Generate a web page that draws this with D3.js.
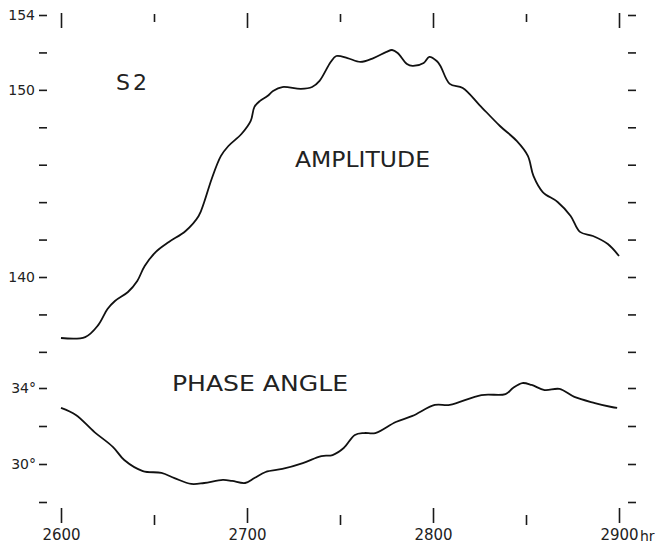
<!DOCTYPE html>
<html>
<head>
<meta charset="utf-8">
<script src="https://cdn.jsdelivr.net/npm/d3@7"></script>
<style>
  body { margin: 0; background: #fff; }
  svg text { font-family: "DejaVu Sans", sans-serif; fill: #222; }
  .tick line { stroke: #1a1a1a; stroke-width: 1.6; }
  .domain { display: none; }
</style>
</head>
<body>
<div id="chart"></div>
<script>
/////////////////////////////////////
///      DATA
/////////////////////////////////////
// hours
var ampHours  = [2600,2613,2620,2625,2629,2636,2641,2645,2651,2658,2667,2674,2677,2681,2686,2690,2697,2702,2704,2707,2711,2714,2719,2729,2735,2739,2745,2748,2754,2761,2768,2775,2778,2781,2786,2789,2795,2798,2802,2804,2809,2816,2825,2836,2845,2851,2854,2859,2867,2874,2879,2886,2894,2900];
var ampValues = [136.74,136.79,137.43,138.29,138.72,139.20,139.79,140.59,141.34,141.87,142.46,143.26,144.01,145.24,146.47,147.00,147.64,148.34,149.09,149.41,149.67,149.94,150.15,150.05,150.15,150.48,151.49,151.81,151.70,151.49,151.70,152.03,152.13,151.97,151.38,151.28,151.44,151.76,151.54,151.28,150.32,150.10,149.19,148.07,147.27,146.47,145.40,144.54,144.01,143.26,142.41,142.19,141.76,141.12];

var phaseHours  = [2600,2608,2618,2628,2634,2644,2654,2661,2670,2677,2687,2692,2699,2704,2710,2719,2730,2740,2746,2752,2758,2763,2769,2780,2789,2801,2809,2826,2839,2843,2848,2853,2860,2868,2876,2887,2896,2899];
var phaseValues = [32.95,32.58,31.68,30.89,30.21,29.63,29.53,29.26,28.95,29.00,29.16,29.11,29.00,29.26,29.58,29.74,30.05,30.42,30.47,30.84,31.53,31.63,31.63,32.21,32.53,33.11,33.11,33.63,33.68,34.00,34.26,34.16,33.89,33.95,33.53,33.21,33.00,32.95];

var hourMajor = [2600,2700,2800,2900];
var hourMinor = [2650,2750,2850];
var ampTicks  = [154,152,150,148,146,144,142,140,138,136];
var ampLabels = [154,150,140];
var phaseTicks  = [34,32,30,28];
var phaseLabels = [34,30];

/////////////////////////////////////
///      SCALES
/////////////////////////////////////
var width = 658, height = 547;
var svg = d3.select("#chart").append("svg")
  .attr("width", width)
  .attr("height", height);

var x = d3.scaleLinear().domain([2600,2900]).range([61,619]);
var yAmp = d3.scaleLinear().domain([140,154]).range([277,15]);
var yPhase = d3.scaleLinear().domain([30,34]).range([464,388]);

/////////////////////////////////////
///      AXES
/////////////////////////////////////
// left
svg.append("g").attr("transform","translate(47,0)")
  .call(d3.axisLeft(yAmp).tickValues(ampTicks).tickSize(8).tickPadding(4)
    .tickFormat(function(d){ return ampLabels.indexOf(d) >= 0 ? d : ""; }))
  .selectAll("text").style("font-size","14px");
svg.append("g").attr("transform","translate(47,0)")
  .call(d3.axisLeft(yPhase).tickValues(phaseTicks).tickSize(8).tickPadding(3)
    .tickFormat(function(d){ return phaseLabels.indexOf(d) >= 0 ? d + "°" : ""; }))
  .selectAll("text").style("font-size","14px");

// right, ticks only
svg.append("g").attr("transform","translate(628,0)")
  .call(d3.axisRight(yAmp).tickValues(ampTicks).tickSize(8).tickFormat(""));
svg.append("g").attr("transform","translate(628,0)")
  .call(d3.axisRight(yPhase).tickValues(phaseTicks).tickSize(8).tickFormat(""));

// top, ticks only
svg.append("g").attr("transform","translate(0,13)")
  .call(d3.axisBottom(x).tickValues(hourMajor).tickSize(15).tickFormat(""));
svg.append("g").attr("transform","translate(0,14)")
  .call(d3.axisBottom(x).tickValues(hourMinor).tickSize(8).tickFormat(""));

// bottom
svg.append("g").attr("transform","translate(0,508)")
  .call(d3.axisBottom(x).tickValues(hourMajor).tickSize(15).tickPadding(6)
    .tickFormat(d3.format("d")))
  .selectAll("text").style("font-size","15px");
svg.append("g").attr("transform","translate(0,515)")
  .call(d3.axisBottom(x).tickValues(hourMinor).tickSize(10).tickFormat(""));

svg.append("text")
  .attr("x", x(2900) + 21)
  .attr("y", 541)
  .style("font-size","14px")
  .text("hr");

/////////////////////////////////////
///      CURVES
/////////////////////////////////////
var ampLine = d3.line()
  .x(function(d,i){ return x(ampHours[i]); })
  .y(function(d){ return yAmp(d); })
  .curve(d3.curveCatmullRom.alpha(0.5));

var phaseLine = d3.line()
  .x(function(d,i){ return x(phaseHours[i]); })
  .y(function(d){ return yPhase(d); })
  .curve(d3.curveCatmullRom.alpha(0.5));

svg.append("path")
  .attr("d", ampLine(ampValues))
  .attr("fill","none")
  .attr("stroke","#111")
  .attr("stroke-width",1.8);

svg.append("path")
  .attr("d", phaseLine(phaseValues))
  .attr("fill","none")
  .attr("stroke","#111")
  .attr("stroke-width",1.8);

/////////////////////////////////////
///      LABELS
/////////////////////////////////////
svg.append("text").attr("x",116).attr("y",90)
  .style("font-size","22px").style("letter-spacing","3px").text("S2");

svg.append("text").attr("x",295).attr("y",167)
  .attr("textLength",135).attr("lengthAdjust","spacingAndGlyphs")
  .style("font-size","21px").text("AMPLITUDE");

svg.append("text").attr("x",172).attr("y",391)
  .attr("textLength",176).attr("lengthAdjust","spacingAndGlyphs")
  .style("font-size","22px").text("PHASE ANGLE");
</script>
</body>
</html>
